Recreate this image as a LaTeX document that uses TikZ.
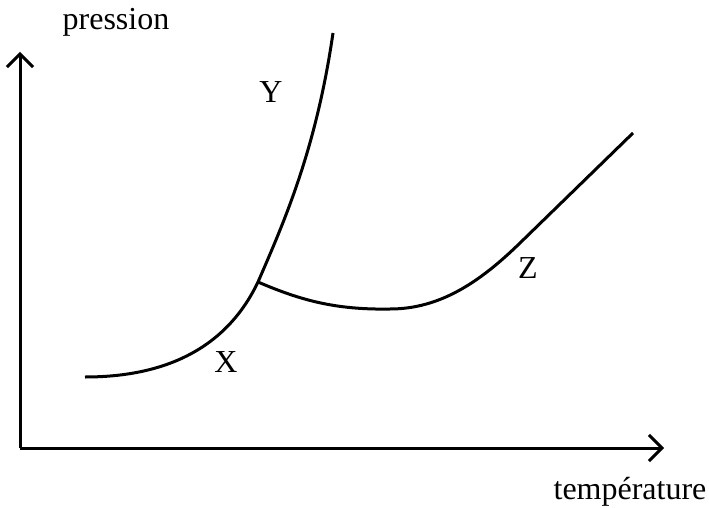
\documentclass[tikz,border=0pt]{standalone}
\usepackage{fontspec}
\setmainfont{Liberation Serif}
\usetikzlibrary{arrows.meta}
\begin{document}
\begin{tikzpicture}[x=1pt,y=-1pt,
  axis/.style={line width=3pt,-{Straight Barb[length=13pt,width=26pt,line width=3pt]}},
  curve/.style={line width=3pt},
  lbl/.style={font=\fontsize{32}{36}\selectfont,inner sep=0pt}]
\useasboundingbox (0,0) rectangle (709,508);
\coordinate (o) at (20,448);
\coordinate (ytip) at (20,52);
\coordinate (xtip) at (664,448);
\draw[axis] (o) -- (ytip);
\draw[axis] (o) -- (xtip);
\node[lbl] (p) at (116,22) {pression};
\node[lbl] (t) at (630,492) {température};
\coordinate (xs) at (85,377);
\coordinate (j) at (258,282);
\coordinate (ye) at (333,33);
\coordinate (zm) at (390,309);
\coordinate (zk) at (520,243);
\coordinate (ze) at (633,133);
\draw[curve] (xs) .. controls (170,377) and (228,345) .. (j)
  .. controls (284,222) and (316,150) .. (ye);
\draw[curve] (j) .. controls (300,300) and (335,310) .. (zm)
  .. controls (440,309) and (480,282) .. (zk) -- (ze);
\node[lbl] (Y) at (271,92) {Y};
\node[lbl] (X) at (226,362) {X};
\node[lbl] (Z) at (528,268) {Z};
\end{tikzpicture}
\end{document}
